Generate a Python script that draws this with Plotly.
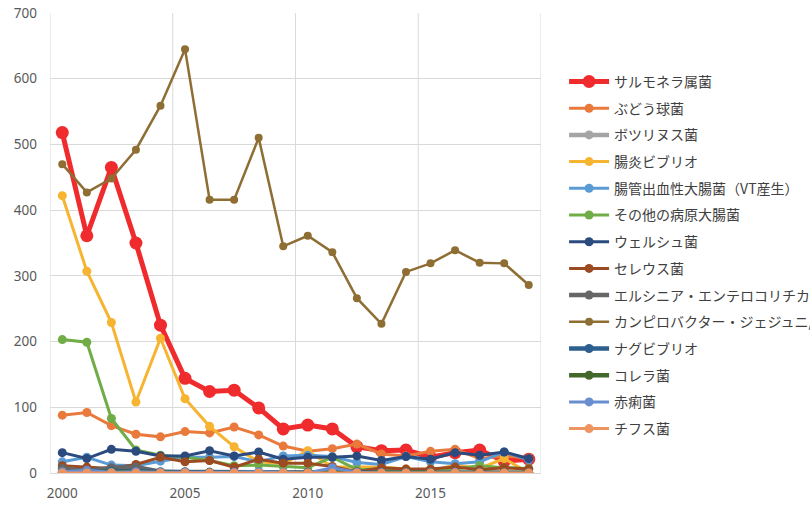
import plotly.graph_objects as go

years = list(range(2000, 2020))

names = [
    "サルモネラ属菌", "ぶどう球菌", "ボツリヌス菌", "腸炎ビブリオ",
    "腸管出血性大腸菌（VT産生）", "その他の病原大腸菌", "ウェルシュ菌", "セレウス菌",
    "エルシニア・エンテロコリチカ", "カンピロバクター・ジェジュニ/コリ", "ナグビブリオ",
    "コレラ菌", "赤痢菌", "チフス菌",
]

salmonella = [518, 361, 465, 350, 225, 144, 124, 126, 99, 67, 73, 67, 40, 34, 35, 24, 31, 35, 18, 21]
staph = [88, 92, 72, 59, 55, 63, 61, 70, 58, 41, 33, 37, 44, 29, 26, 33, 36, 22, 26, 23]
botulism = [0, 0, 0, 0, 0, 0, 1, 1, 0, 0, 0, 0, 2, 0, 0, 0, 0, 1, 0, 0]
vibrio_para = [422, 307, 229, 108, 205, 113, 71, 40, 17, 14, 34, 9, 9, 9, 6, 3, 12, 7, 22, 0]
ehec = [17, 24, 12, 11, 18, 24, 24, 25, 17, 26, 27, 25, 16, 13, 25, 17, 14, 17, 32, 20]
other_ecoli = [203, 199, 83, 35, 27, 24, 19, 11, 12, 10, 8, 24, 5, 6, 3, 6, 6, 11, 8, 7]
perfringens = [31, 22, 36, 33, 26, 26, 34, 26, 32, 21, 24, 24, 26, 19, 25, 21, 31, 27, 32, 22]
cereus = [11, 9, 7, 13, 24, 17, 19, 9, 21, 15, 15, 10, 2, 8, 6, 6, 9, 5, 8, 6]
yersinia = [7, 3, 8, 9, 2, 2, 1, 1, 1, 0, 0, 1, 1, 1, 1, 1, 1, 1, 0, 0]
campylobacter = [470, 427, 448, 492, 559, 645, 416, 416, 510, 345, 361, 336, 266, 227, 306, 319, 339, 320, 319, 286]
nag_vibrio = [1, 1, 3, 2, 1, 1, 1, 1, 1, 0, 1, 0, 0, 1, 0, 0, 0, 0, 0, 0]
cholera = [0, 1, 2, 1, 0, 0, 0, 0, 0, 0, 0, 0, 0, 0, 0, 0, 0, 0, 0, 0]
shigella = [2, 4, 1, 2, 1, 1, 0, 1, 2, 1, 0, 8, 1, 0, 0, 0, 1, 0, 0, 0]
typhoid = [0] * 20

series = [salmonella, staph, botulism, vibrio_para, ehec, other_ecoli, perfringens,
          cereus, yersinia, campylobacter, nag_vibrio, cholera, shigella, typhoid]

colors = ["#EF2B2D", "#E97A3C", "#A5A5A5", "#F7B431", "#5B9BD5", "#70AD47", "#2B4A7E",
          "#9B4A22", "#666666", "#8E6E33", "#2C5F8F", "#43682B", "#698ED0", "#EE9461"]
widths = [5, 3, 4.5, 3, 3, 3, 3, 3, 4.5, 2.5, 4.5, 4.5, 3, 3]
msizes = [13, 9, 9, 9, 9, 9, 9, 9, 9, 8, 9, 9, 9, 9]

fig = go.Figure()
for i, (n, v) in enumerate(zip(names, series)):
    fig.add_trace(go.Scatter(
        x=years, y=v, name=n, mode="lines+markers",
        line=dict(color=colors[i], width=widths[i]),
        marker=dict(color=colors[i], size=msizes[i]),
        legendgroup="g%d" % i,
    ))

grid_x = [1999.5, 2004.5, 2009.5, 2014.5, 2019.5]
for gx in grid_x:
    fig.add_shape(type="line", xref="x", yref="paper", x0=gx, x1=gx, y0=0, y1=1,
                  line=dict(color="#D9D9D9", width=1), layer="below")

fig.update_layout(
    width=810, height=505,
    margin=dict(l=50, r=269, t=13, b=32, autoexpand=False),
    paper_bgcolor="white", plot_bgcolor="white",
    font=dict(family="Noto Sans CJK JP, Noto Sans", color="#404040"),
    showlegend=True,
    legend=dict(
        x=1.047, y=0.885, xanchor="left", yanchor="top",
        font=dict(size=14, family="Noto Sans CJK JP", color="#404040"),
        tracegroupgap=5.5, bgcolor="rgba(0,0,0,0)", itemwidth=40,
    ),
    xaxis=dict(
        range=[1999.5, 2019.5], tickmode="array", tickvals=[2000, 2005, 2010, 2015],
        ticktext=["2000", "2005", "2010", "2015"],
        showgrid=False, zeroline=False, showline=False, ticks="",
        tickfont=dict(size=13.5, family="Noto Sans", color="#595959"),
        ticklabelstandoff=10,
    ),
    yaxis=dict(
        range=[0, 700], dtick=100, tick0=0,
        showgrid=True, gridcolor="#D9D9D9", gridwidth=1,
        zeroline=True, zerolinecolor="#D9D9D9", zerolinewidth=1,
        showline=False, ticks="",
        tickfont=dict(size=13.5, family="Noto Sans", color="#595959"),
        ticklabelstandoff=12,
    ),
)

fig.write_html("out.html", config={"displayModeBar": False},
               post_script="document.body.style.margin='0';")
